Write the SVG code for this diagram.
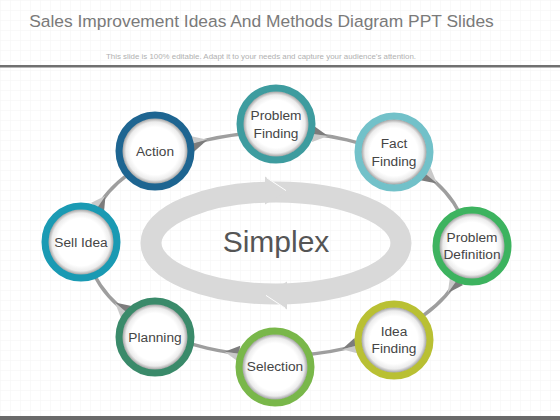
<svg xmlns="http://www.w3.org/2000/svg" width="560" height="420" viewBox="0 0 560 420">
<defs>
<pattern id="grid" width="10" height="10" patternUnits="userSpaceOnUse">
<path d="M10 0H0V10" fill="none" stroke="#f3f3f3" stroke-width="1"/>
</pattern>
<radialGradient id="inner" cx="0.5" cy="0.5" r="0.5">
<stop offset="0.72" stop-color="#ffffff"/>
<stop offset="0.88" stop-color="#ececec"/>
<stop offset="1" stop-color="#9c9c9c"/>
</radialGradient>
<style>
.ring{stroke-width:7}
.in{fill:url(#inner)}
.lbl{font-family:"Liberation Sans",Arial,sans-serif;font-size:13.7px;fill:#454545;text-anchor:middle}
.wl{fill:#c9c9c9}
.wd{fill:#7c7c7c}
</style>
</defs>
<rect width="560" height="420" fill="#ffffff"/>
<rect width="560" height="420" fill="url(#grid)"/>
<text x="261.5" y="27" font-family="Liberation Sans,Arial,sans-serif" font-size="17.4" fill="#7a7a7a" text-anchor="middle">Sales Improvement Ideas And Methods Diagram PPT Slides</text>
<text x="261" y="58.5" font-family="Liberation Sans,Arial,sans-serif" font-size="7.9" fill="#b0b0b0" text-anchor="middle">This slide is 100% editable. Adapt it to your needs and capture your audience’s attention.</text>
<rect x="0" y="65" width="560" height="2.5" fill="#707070"/>
<rect x="0" y="416" width="560" height="4" fill="#6a6a6a"/>

<g id="center">
<ellipse cx="276" cy="243" rx="125" ry="51" fill="none" stroke="#d9d9d9" stroke-width="21"/>
<g id="head-top">
<polygon points="265,176.5 287,191 265,204.5" fill="#d9d9d9"/>
<line x1="267" y1="178" x2="286" y2="190.6" stroke="#ffffff" stroke-width="1"/>
</g>
<g transform="rotate(180 276 243)">
<polygon points="265,176.5 287,191 265,204.5" fill="#d9d9d9"/>
<line x1="267" y1="178" x2="286" y2="190.6" stroke="#ffffff" stroke-width="1"/>
</g>
<text x="276" y="252" font-family="Liberation Sans,Arial,sans-serif" font-size="30" fill="#555555" text-anchor="middle">Simplex</text>
</g>

<g id="connectors">
<ellipse cx="277" cy="244" rx="190" ry="112" fill="none" stroke="#9e9e9e" stroke-width="3.5"/>
<polygon class="wl" points="190.3,136.1 192.3,143.8 207.4,139.8"/>
<polygon class="wd" points="194.3,151.5 192.3,143.8 207.4,139.8"/>
<polygon class="wd" points="314,126 313,134 328,136"/>
<polygon class="wl" points="312,142 313,134 328,136"/>
<polygon class="wl" points="430.6,167.8 425.5,174 437,183.5"/>
<polygon class="wd" points="420.4,180.2 425.5,174 437,183.5"/>
<polygon class="wd" points="463.1,285.1 456.6,280.5 447.8,293.1"/>
<polygon class="wl" points="450.1,275.9 456.6,280.5 447.8,293.1"/>
<polygon class="wd" points="354.5,338 356.3,345.8 342,349.2"/>
<polygon class="wl" points="358.1,353.6 356.3,345.8 342,349.2"/>
<polygon class="wd" points="240.2,345.8 239.1,353.7 224.6,351.7"/>
<polygon class="wl" points="238,361.6 239.1,353.7 224.6,351.7"/>
<polygon class="wd" points="131.5,306.1 126.3,312.2 115,302.5"/>
<polygon class="wl" points="121.1,318.3 126.3,312.2 115,302.5"/>
<polygon class="wd" points="104,212.1 97.4,207.5 105.5,195.8"/>
<polygon class="wl" points="90.8,202.9 97.4,207.5 105.5,195.8"/>
</g>

<g id="node-action">
<circle class="in" cx="155" cy="151" r="33"/>
<circle class="ring" cx="155" cy="151" r="36" fill="none" stroke="#1e6591"/>
<text class="lbl" x="155" y="156">Action</text>
</g>
<g id="node-problem-finding">
<circle class="in" cx="276" cy="124" r="33"/>
<circle class="ring" cx="276" cy="124" r="36" fill="none" stroke="#3e9c9f"/>
<text class="lbl" x="276" y="120">Problem</text>
<text class="lbl" x="276" y="138">Finding</text>
</g>
<g id="node-fact-finding">
<circle class="in" cx="394" cy="152" r="33"/>
<circle class="ring" cx="394" cy="152" r="36" fill="none" stroke="#72c1c9"/>
<text class="lbl" x="394" y="148">Fact</text>
<text class="lbl" x="394" y="166">Finding</text>
</g>
<g id="node-problem-definition">
<circle class="in" cx="472" cy="246" r="33"/>
<circle class="ring" cx="472" cy="246" r="36" fill="none" stroke="#3db35f"/>
<text class="lbl" x="472" y="242">Problem</text>
<text class="lbl" x="472" y="259">Definition</text>
</g>
<g id="node-idea-finding">
<circle class="in" cx="394" cy="340" r="33"/>
<circle class="ring" cx="394" cy="340" r="36" fill="none" stroke="#b9c033"/>
<text class="lbl" x="394" y="335.5">Idea</text>
<text class="lbl" x="394" y="353">Finding</text>
</g>
<g id="node-selection">
<circle class="in" cx="275" cy="367" r="33"/>
<circle class="ring" cx="275" cy="367" r="36" fill="none" stroke="#79b74a"/>
<text class="lbl" x="275" y="371">Selection</text>
</g>
<g id="node-planning">
<circle class="in" cx="155" cy="337" r="33"/>
<circle class="ring" cx="155" cy="337" r="36" fill="none" stroke="#3a8a6a"/>
<text class="lbl" x="155" y="342">Planning</text>
</g>
<g id="node-sell-idea">
<circle class="in" cx="81" cy="242" r="33"/>
<circle class="ring" cx="81" cy="242" r="36" fill="none" stroke="#1a9ab3"/>
<text class="lbl" x="81" y="247">Sell Idea</text>
</g>
</svg>
